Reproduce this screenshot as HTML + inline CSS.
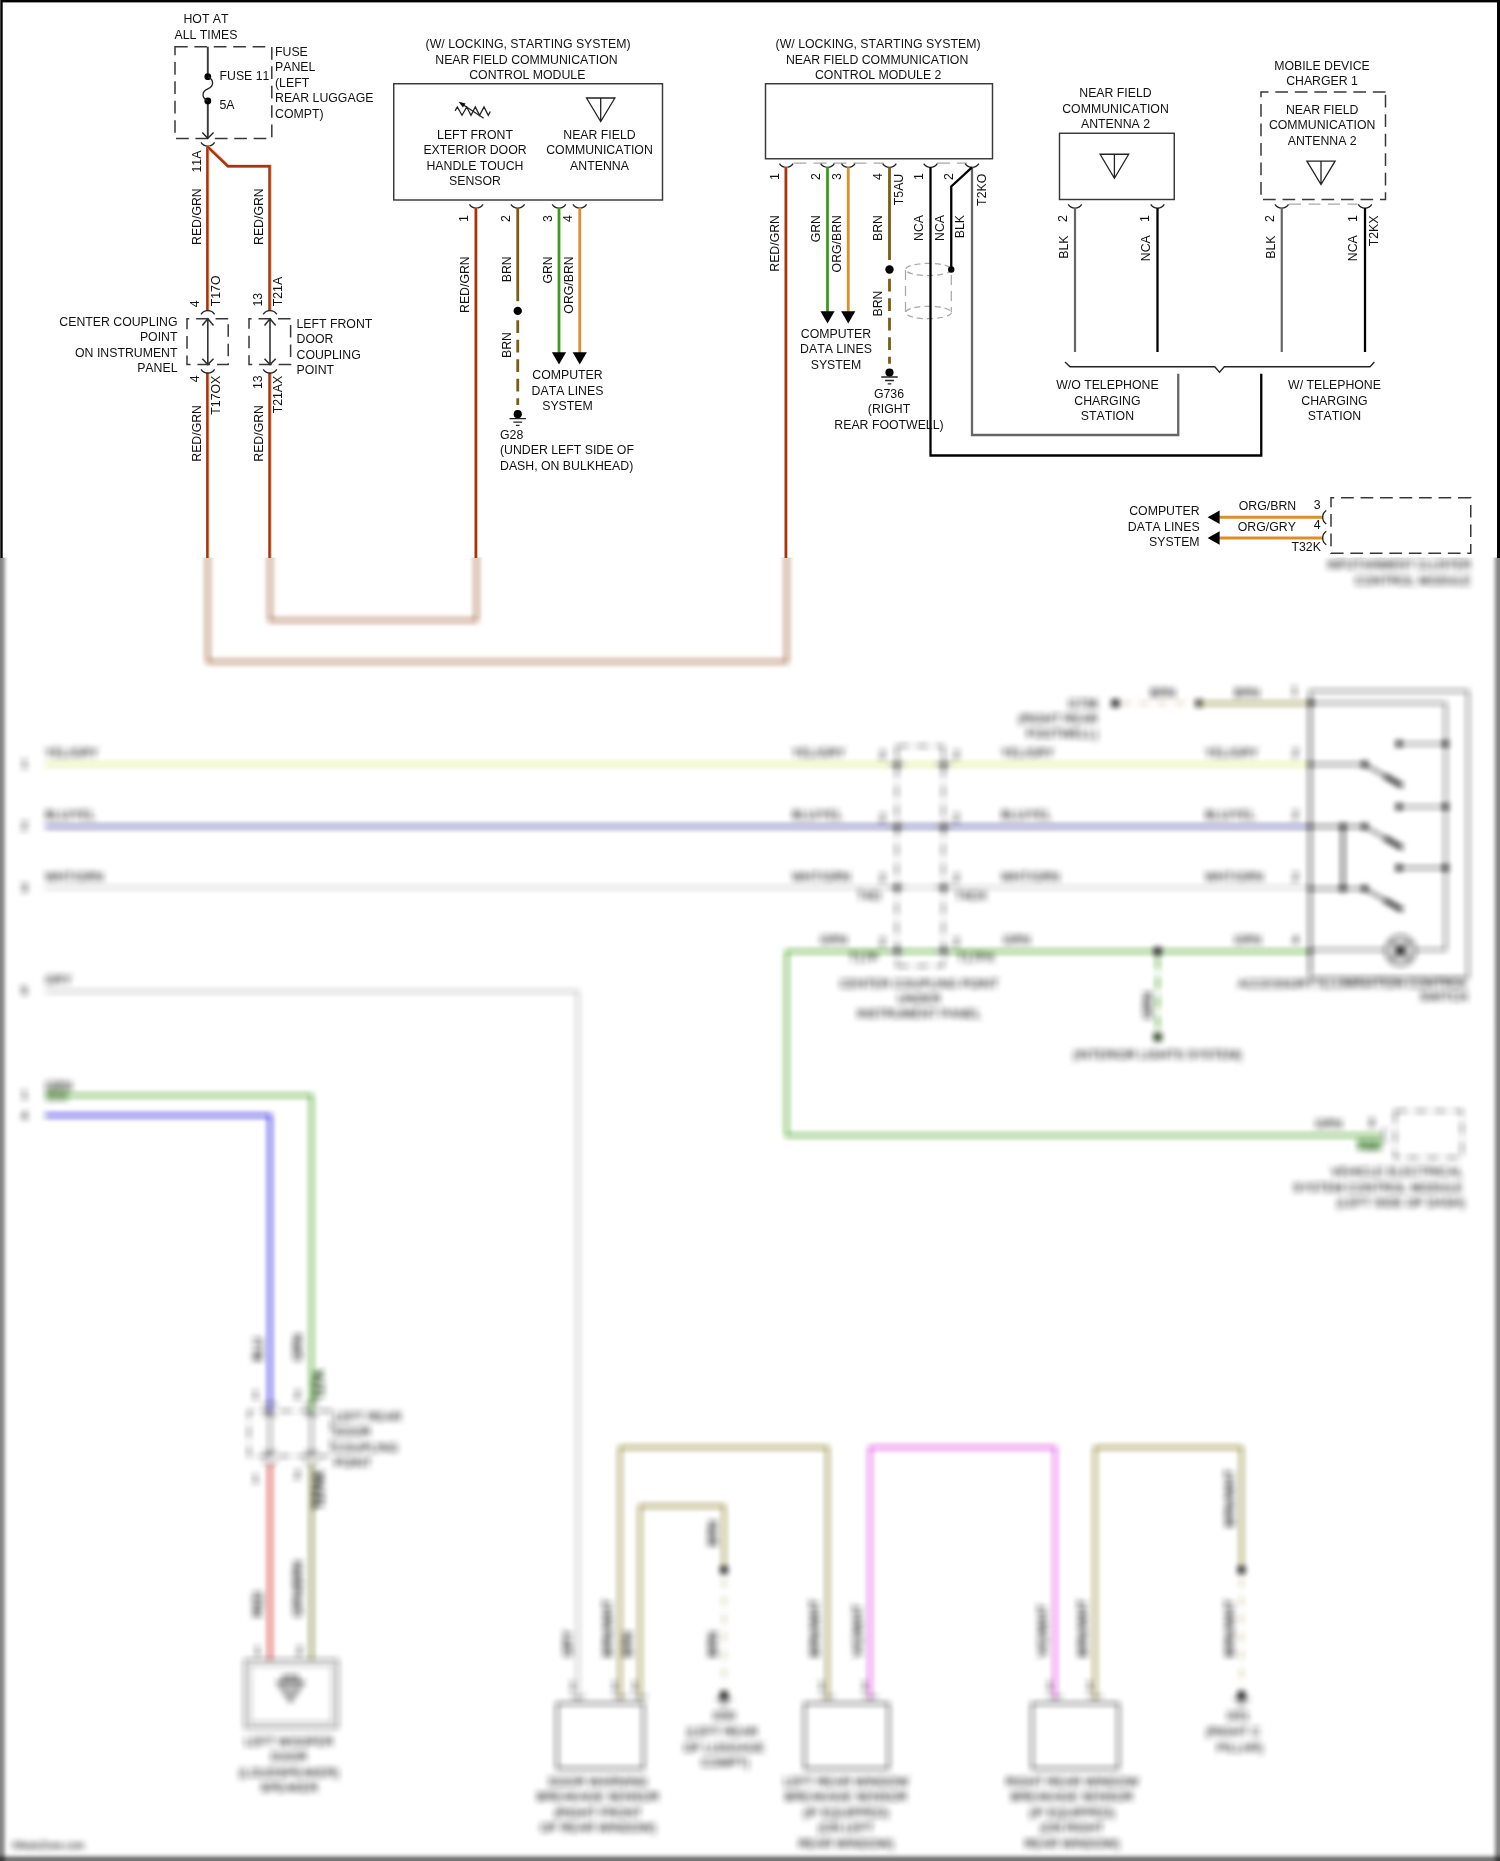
<!DOCTYPE html>
<html lang="en">
<head>
<meta charset="utf-8">
<title>Near Field Communication Wiring Diagram</title>
<style>
html,body{margin:0;padding:0;background:#fff}
svg{display:block}
text{font-family:"Liberation Sans",Arial,Helvetica,sans-serif;font-size:12.3px;fill:#111;font-kerning:none}
.k{fill:none;stroke:#222;stroke-width:1.3}
.b{fill:none;stroke:#383838;stroke-width:1.45}
.d{fill:none;stroke:#383838;stroke-width:1.5}
.g{fill:none;stroke:#a8a8a8;stroke-width:1.25}
.z text{stroke:#111;stroke-width:.12px}
</style>
</head>
<body>
<svg width="1500" height="1861" viewBox="0 0 1500 1861">
<defs>
<clipPath id="cs"><rect x="0" y="0" width="1500" height="557.6"/></clipPath>
<clipPath id="cb"><rect x="0" y="557.6" width="1500" height="1303.4"/></clipPath>
<linearGradient id="gl" x1="0" y1="0" x2="1" y2="0">
<stop offset="0" stop-color="#000" stop-opacity=".5"/><stop offset=".3" stop-color="#000" stop-opacity=".42"/><stop offset=".5" stop-color="#000" stop-opacity=".27"/><stop offset=".68" stop-color="#000" stop-opacity=".11"/><stop offset=".85" stop-color="#000" stop-opacity=".03"/><stop offset="1" stop-color="#000" stop-opacity="0"/>
</linearGradient>
<linearGradient id="gr" x1="1" y1="0" x2="0" y2="0">
<stop offset="0" stop-color="#000" stop-opacity=".5"/><stop offset=".3" stop-color="#000" stop-opacity=".45"/><stop offset=".55" stop-color="#000" stop-opacity=".25"/><stop offset=".75" stop-color="#000" stop-opacity=".09"/><stop offset=".9" stop-color="#000" stop-opacity=".02"/><stop offset="1" stop-color="#000" stop-opacity="0"/>
</linearGradient>
<linearGradient id="gb" x1="0" y1="1" x2="0" y2="0">
<stop offset="0" stop-color="#000" stop-opacity=".56"/><stop offset=".3" stop-color="#000" stop-opacity=".5"/><stop offset=".5" stop-color="#000" stop-opacity=".3"/><stop offset=".68" stop-color="#000" stop-opacity=".13"/><stop offset=".88" stop-color="#000" stop-opacity=".03"/><stop offset="1" stop-color="#000" stop-opacity="0"/>
</linearGradient>
<filter id="bl" filterUnits="userSpaceOnUse" x="0" y="520" width="1500" height="1341" color-interpolation-filters="sRGB">
<feConvolveMatrix order="9 1" kernelMatrix="1 1 1 1 1 1 1 1 1" divisor="9" targetX="4" targetY="0" edgeMode="none" preserveAlpha="false" result="a"/>
<feConvolveMatrix in="a" order="1 9" kernelMatrix="1 1 1 1 1 1 1 1 1" divisor="9" targetX="0" targetY="4" edgeMode="none" preserveAlpha="false" result="b"/>
<feGaussianBlur in="b" stdDeviation="1.8"/>
</filter>
</defs>
<rect x="0" y="0" width="1500" height="1861" fill="#fff"/>
<g clip-path="url(#cb)"><g filter="url(#bl)" opacity="1" class="z">
<path d="M207.8,530 V661.8 H786.8 V530" fill="none" stroke="#a86c48" stroke-width="3.0" stroke-linejoin="miter"/>
<path d="M270,530 V620.3 H476.4 V530" fill="none" stroke="#a86c48" stroke-width="3.0" stroke-linejoin="miter"/>
<path d="M1470.75,540 V553.2 H1331 V540" class="d" stroke-dasharray="12.7 6.8"/>
<text x="1291.50" y="550.50">T32K</text>
<text x="1200.00" y="546.25" text-anchor="end">SYSTEM</text>
<text x="1471.00" y="568.50" text-anchor="end" textLength="144" lengthAdjust="spacingAndGlyphs">INFOTAINMENT CLUSTER</text>
<text x="1471.00" y="584.50" text-anchor="end">CONTROL MODULE</text>
<path d="M45,764.4 H1310" fill="none" stroke="#dcec7c" stroke-width="2.8"/>
<path d="M45,826.5 H1310" fill="none" stroke="#5a56a8" stroke-width="2.8"/>
<path d="M45,887.4 H1310" fill="none" stroke="#d0d0d0" stroke-width="2.8"/>
<path d="M45,991.3 H577.8 V1700" fill="none" stroke="#c4c4c4" stroke-width="2.8" stroke-linejoin="miter"/>
<path d="M45,1095.3 H311.5 V1411" fill="none" stroke="#4ea42c" stroke-width="2.8" stroke-linejoin="miter"/>
<path d="M45,1115.3 H270 V1411" fill="none" stroke="#1808dc" stroke-width="2.8" stroke-linejoin="miter"/>
<path d="M1310,951.3 H786.7 V1135.3 H1380" fill="none" stroke="#4ea42c" stroke-width="2.8" stroke-linejoin="miter"/>
<text x="45.00" y="757.30">YEL/GRY</text>
<text x="21.00" y="768.30">1</text>
<text x="45.00" y="819.30">BLU/YEL</text>
<text x="21.00" y="830.30">2</text>
<text x="45.00" y="880.70">WHT/GRN</text>
<text x="21.00" y="891.70">3</text>
<text x="45.00" y="984.30">GRY</text>
<text x="21.00" y="995.30">5</text>
<text x="45.00" y="1089.50">GRN</text>
<text x="21.00" y="1099.00">1</text>
<text x="21.00" y="1119.50">4</text>
<rect x="46" y="1088" width="22" height="13" fill="#5f8750" opacity=".6"/>
<text x="792.00" y="757.30">YEL/GRY</text>
<text x="1001.00" y="757.30">YEL/GRY</text>
<text x="1205.00" y="757.30">YEL/GRY</text>
<text x="1292.00" y="757.30">2</text>
<text x="792.00" y="819.30">BLU/YEL</text>
<text x="1001.00" y="819.30">BLU/YEL</text>
<text x="1205.00" y="819.30">BLU/YEL</text>
<text x="1292.00" y="819.30">2</text>
<text x="792.00" y="880.70">WHT/GRN</text>
<text x="1001.00" y="880.70">WHT/GRN</text>
<text x="1205.00" y="880.70">WHT/GRN</text>
<text x="1292.00" y="880.70">2</text>
<text x="820.00" y="944.00">GRN</text>
<text x="1003.00" y="944.00">GRN</text>
<text x="1234.00" y="944.00">GRN</text>
<text x="1292.00" y="944.00">4</text>
<path d="M896.7,746 V966 M943.3,746 V966" class="d" stroke-dasharray="12.6 6.9"/>
<path d="M896.7,746 H943.3 M896.7,966 H943.3" class="d" stroke-dasharray="12.6 6.9"/>
<path d="M888.7,764.4 H904.7 M894.7,764.4 l5,-5 M894.7,764.4 l5,5" class="k" stroke-width="1.6"/>
<circle cx="896.70" cy="764.40" r="2.20" fill="#000"/>
<path d="M935.3,764.4 H951.3 M941.3,764.4 l5,-5 M941.3,764.4 l5,5" class="k" stroke-width="1.6"/>
<circle cx="943.30" cy="764.40" r="2.20" fill="#000"/>
<text x="879.00" y="759.40">2</text>
<text x="953.00" y="759.40">2</text>
<path d="M888.7,826.5 H904.7 M894.7,826.5 l5,-5 M894.7,826.5 l5,5" class="k" stroke-width="1.6"/>
<circle cx="896.70" cy="826.50" r="2.20" fill="#000"/>
<path d="M935.3,826.5 H951.3 M941.3,826.5 l5,-5 M941.3,826.5 l5,5" class="k" stroke-width="1.6"/>
<circle cx="943.30" cy="826.50" r="2.20" fill="#000"/>
<text x="879.00" y="821.50">2</text>
<text x="953.00" y="821.50">2</text>
<path d="M888.7,887.4 H904.7 M894.7,887.4 l5,-5 M894.7,887.4 l5,5" class="k" stroke-width="1.6"/>
<circle cx="896.70" cy="887.40" r="2.20" fill="#000"/>
<path d="M935.3,887.4 H951.3 M941.3,887.4 l5,-5 M941.3,887.4 l5,5" class="k" stroke-width="1.6"/>
<circle cx="943.30" cy="887.40" r="2.20" fill="#000"/>
<text x="879.00" y="882.40">2</text>
<text x="953.00" y="882.40">2</text>
<path d="M888.7,951.3 H904.7 M894.7,951.3 l5,-5 M894.7,951.3 l5,5" class="k" stroke-width="1.6"/>
<circle cx="896.70" cy="951.30" r="2.20" fill="#000"/>
<path d="M935.3,951.3 H951.3 M941.3,951.3 l5,-5 M941.3,951.3 l5,5" class="k" stroke-width="1.6"/>
<circle cx="943.30" cy="951.30" r="2.20" fill="#000"/>
<text x="879.00" y="946.30">2</text>
<text x="953.00" y="946.30">2</text>
<text x="857.00" y="900.00">T4O</text>
<text x="955.00" y="900.00">T4OX</text>
<text x="849.00" y="962.00">T17P</text>
<text x="957.00" y="962.00">T17PX</text>
<text x="919.00" y="987.50" text-anchor="middle">CENTER COUPLING POINT</text>
<text x="919.00" y="1002.50" text-anchor="middle">UNDER</text>
<text x="919.00" y="1017.50" text-anchor="middle">INSTRUMENT PANEL</text>
<circle cx="1115.40" cy="703.30" r="4.00" fill="#000"/>
<circle cx="1199.20" cy="703.30" r="3.80" fill="#000"/>
<path d="M1121,703.3 H1194" fill="none" stroke="#988c40" stroke-width="1.6" stroke-dasharray="10 8" opacity=".7"/>
<path d="M1199,703.3 H1310" fill="none" stroke="#988c40" stroke-width="2.8"/>
<text x="1098.00" y="707.50" text-anchor="end">G736</text>
<text x="1098.00" y="723.00" text-anchor="end">(RIGHT REAR</text>
<text x="1098.00" y="737.50" text-anchor="end">FOOTWELL)</text>
<text x="1150.00" y="696.50">BRN</text>
<text x="1234.00" y="696.50">BRN</text>
<text x="1291.00" y="695.00">1</text>
<rect x="1310" y="691" width="158" height="287" fill="none" stroke="#333" stroke-width="1.5"/>
<path d="M1310,703 H1445.6 V949.7 H1310" fill="none" stroke="#333" stroke-width="1.6"/>
<path d="M1310.2,700 V972" fill="none" stroke="#333" stroke-width="2.1"/>
<circle cx="1311.00" cy="702.50" r="3.10" fill="#000"/>
<path d="M1399,743.7 H1445.6" stroke="#333" stroke-width="1.6" fill="none"/>
<circle cx="1399.00" cy="743.70" r="3.30" fill="#000"/>
<circle cx="1445.60" cy="743.70" r="3.30" fill="#000"/>
<path d="M1399,806.7 H1445.6" stroke="#333" stroke-width="1.6" fill="none"/>
<circle cx="1399.00" cy="806.70" r="3.30" fill="#000"/>
<circle cx="1445.60" cy="806.70" r="3.30" fill="#000"/>
<path d="M1399,867.9 H1445.6" stroke="#333" stroke-width="1.6" fill="none"/>
<circle cx="1399.00" cy="867.90" r="3.30" fill="#000"/>
<circle cx="1445.60" cy="867.90" r="3.30" fill="#000"/>
<path d="M1310,764.4 H1364.7" stroke="#333" stroke-width="1.9" fill="none"/>
<circle cx="1364.70" cy="764.40" r="3.30" fill="#000"/>
<path d="M1364.7,764.4 L1402.4,785.9" stroke="#222" stroke-width="1.8" fill="none"/>
<path d="M1384.5,775.7 L1402.4,785.9" stroke="#111" stroke-width="4.6" fill="none"/>
<circle cx="1310.20" cy="764.40" r="2.30" fill="#000"/>
<path d="M1310,826.5 H1364.7" stroke="#333" stroke-width="1.9" fill="none"/>
<circle cx="1364.70" cy="826.50" r="3.30" fill="#000"/>
<path d="M1364.7,826.5 L1402.4,848.0" stroke="#222" stroke-width="1.8" fill="none"/>
<path d="M1384.5,837.8 L1402.4,848.0" stroke="#111" stroke-width="4.6" fill="none"/>
<circle cx="1310.20" cy="826.50" r="2.30" fill="#000"/>
<path d="M1310,888.6 H1364.7" stroke="#333" stroke-width="1.9" fill="none"/>
<circle cx="1364.70" cy="888.60" r="3.30" fill="#000"/>
<path d="M1364.7,888.6 L1402.4,910.1" stroke="#222" stroke-width="1.8" fill="none"/>
<path d="M1384.5,899.9 L1402.4,910.1" stroke="#111" stroke-width="4.6" fill="none"/>
<circle cx="1310.20" cy="888.60" r="2.30" fill="#000"/>
<circle cx="1343.00" cy="826.50" r="3.30" fill="#000"/>
<circle cx="1343.00" cy="888.60" r="3.30" fill="#000"/>
<path d="M1343,826.5 V888.6" stroke="#222" stroke-width="2.6" fill="none"/>
<circle cx="1310.20" cy="951.30" r="2.30" fill="#000"/>
<circle cx="1400.5" cy="950.6" r="15" fill="#d4d4d4" stroke="#444" stroke-width="1.5"/>
<path d="M1391,941 L1410,960 M1410,941 L1391,960" stroke="#333" stroke-width="1.5"/>
<circle cx="1400.50" cy="950.60" r="4.20" fill="#000"/>
<text x="1468.00" y="987.50" text-anchor="end">ACCESSORY ILLUMINATION CONTROL</text>
<text x="1468.00" y="1001.00" text-anchor="end">SWITCH</text>
<circle cx="1157.70" cy="951.30" r="4.20" fill="#000"/>
<path d="M1157.7,957 V1031" fill="none" stroke="#4ea42c" stroke-width="2.6" stroke-dasharray="12.7 6.8"/>
<circle cx="1157.7" cy="1037" r="4.6" fill="#16330e"/>
<text transform="translate(1151.50 1019.00) rotate(-90)" style="stroke-width:.3px">GRN</text>
<text x="1157.50" y="1059.00" text-anchor="middle">(INTERIOR LIGHTS SYSTEM)</text>
<rect x="1395" y="1111" width="67" height="46.5" class="d" stroke-dasharray="12.7 6.8"/>
<text x="1315.00" y="1128.00">GRN</text>
<text x="1368.00" y="1127.00">3</text>
<path d="M1386,1128.5 A8 8 0 0 0 1386,1142" class="k"/>
<text x="1357.00" y="1150.50" fill="#1f4a16">T4A</text>
<rect x="1357" y="1139" width="25" height="11" fill="#3f8f2c" opacity=".55"/>
<text x="1463.00" y="1175.50" text-anchor="end">VEHICLE ELECTRICAL</text>
<text x="1463.00" y="1191.50" text-anchor="end">SYSTEM CONTROL MODULE</text>
<text x="1465.00" y="1206.50" text-anchor="end">(LEFT SIDE OF DASH)</text>
<path d="M331.5,1411 H249 V1456 H331.5 Z" class="d" stroke-dasharray="12.6 6.9"/>
<path d="M270.0,1411 V1456 M264.5,1417 l5.5,-6 l5.5,6 M264.5,1450 l5.5,6 l5.5,-6" class="k" stroke-width="1.5"/>
<path d="M263.20,1406.50 A8 8 0 0 1 276.80,1406.50" class="k"/>
<path d="M263.20,1460.50 A8 8 0 0 0 276.80,1460.50" class="k"/>
<path d="M311.5,1411 V1456 M306.0,1417 l5.5,-6 l5.5,6 M306.0,1450 l5.5,6 l5.5,-6" class="k" stroke-width="1.5"/>
<path d="M304.70,1406.50 A8 8 0 0 1 318.30,1406.50" class="k"/>
<path d="M304.70,1460.50 A8 8 0 0 0 318.30,1460.50" class="k"/>
<path d="M270,1464 V1660" fill="none" stroke="#d01808" stroke-width="2.8"/>
<path d="M311.5,1464 V1660" fill="none" stroke="#78782e" stroke-width="2.8"/>
<text transform="translate(261.50 1361.00) rotate(-90)" style="stroke-width:.3px">BLU</text>
<text transform="translate(302.00 1361.00) rotate(-90)" style="stroke-width:.3px">GRN</text>
<text transform="translate(261.50 1617.00) rotate(-90)" style="stroke-width:.3px">RED</text>
<text transform="translate(302.00 1617.00) rotate(-90)" style="stroke-width:.3px">GRN/BRN</text>
<text transform="translate(322.50 1400.00) rotate(-90)" style="fill:#14350d;stroke:#14350d;stroke-width:1px">T27A</text>
<text transform="translate(322.50 1509.00) rotate(-90)" style="stroke-width:1.1px">T27AX</text>
<text x="252.00" y="1399.00">1</text>
<text x="294.00" y="1399.00">2</text>
<text x="252.00" y="1483.00">1</text>
<text x="294.00" y="1479.00">2</text>
<text x="254.00" y="1655.00">1</text>
<text x="296.00" y="1655.00">2</text>
<text x="334.00" y="1421.00">LEFT REAR</text>
<text x="334.00" y="1436.30">DOOR</text>
<text x="334.00" y="1451.60">COUPLING</text>
<text x="334.00" y="1466.90">POINT</text>
<rect x="245" y="1660" width="92.5" height="67.5" fill="none" stroke="#333" stroke-width="1.3"/>
<rect x="250" y="1665" width="82.5" height="57.5" fill="none" stroke="#666" stroke-width="1"/>
<path d="M277,1682 H304 L290.5,1702 Z M283,1682 V1676 H298 V1682" fill="#bbb" stroke="#333" stroke-width="1.3"/>
<text x="289.00" y="1746.00" text-anchor="middle">LEFT WOOFER</text>
<text x="289.00" y="1761.30" text-anchor="middle">DOOR</text>
<text x="289.00" y="1776.60" text-anchor="middle">(LOUDSPEAKER)</text>
<text x="289.00" y="1791.90" text-anchor="middle">SPEAKER</text>
<rect x="557.0" y="1703.5" width="86.5" height="65" fill="none" stroke="#333" stroke-width="1.8"/>
<rect x="804.5" y="1703.5" width="84.0" height="65" fill="none" stroke="#333" stroke-width="1.8"/>
<rect x="1032.0" y="1703.5" width="86.5" height="65" fill="none" stroke="#333" stroke-width="1.8"/>
<path d="M620,1698 V1447.5 H827.5 V1698" fill="none" stroke="#988c40" stroke-width="2.8" stroke-linejoin="miter"/>
<path d="M640,1698 V1506 H724 V1566" fill="none" stroke="#988c40" stroke-width="2.8" stroke-linejoin="miter"/>
<path d="M870,1698 V1447.5 H1055 V1698" fill="none" stroke="#e04ee0" stroke-width="2.8" stroke-linejoin="miter"/>
<path d="M1095,1698 V1447.5 H1241.5 V1566" fill="none" stroke="#988c40" stroke-width="2.8" stroke-linejoin="miter"/>
<path d="M571.00,1694.50 A8 8 0 0 0 584.60,1694.50" class="k"/>
<path d="M613.20,1694.50 A8 8 0 0 0 626.80,1694.50" class="k"/>
<path d="M633.20,1694.50 A8 8 0 0 0 646.80,1694.50" class="k"/>
<path d="M820.70,1694.50 A8 8 0 0 0 834.30,1694.50" class="k"/>
<path d="M863.20,1694.50 A8 8 0 0 0 876.80,1694.50" class="k"/>
<path d="M1048.20,1694.50 A8 8 0 0 0 1061.80,1694.50" class="k"/>
<path d="M1088.20,1694.50 A8 8 0 0 0 1101.80,1694.50" class="k"/>
<circle cx="724.00" cy="1570.00" r="3.90" fill="#000"/>
<path d="M724.0,1578 V1688" fill="none" stroke="#988c40" stroke-width="1.8" stroke-dasharray="10 8" opacity=".6"/>
<circle cx="724.00" cy="1695.00" r="4.10" fill="#000"/>
<path d="M715.80,1699.40 H732.20 M719.60,1702.90 H728.40 M722.20,1706.20 H725.80" class="k"/>
<circle cx="1241.50" cy="1570.00" r="3.90" fill="#000"/>
<path d="M1241.5,1578 V1688" fill="none" stroke="#988c40" stroke-width="1.8" stroke-dasharray="10 8" opacity=".6"/>
<circle cx="1241.50" cy="1695.00" r="4.10" fill="#000"/>
<path d="M1233.30,1699.40 H1249.70 M1237.10,1702.90 H1245.90 M1239.70,1706.20 H1243.30" class="k"/>
<text transform="translate(572.00 1657.00) rotate(-90)" style="stroke-width:.3px">GRY</text>
<text transform="translate(612.00 1657.00) rotate(-90)" style="stroke-width:.3px">BRN/WHT</text>
<text transform="translate(632.00 1657.00) rotate(-90)" style="stroke-width:.3px">BRN</text>
<text transform="translate(717.00 1546.00) rotate(-90)" style="stroke-width:.3px">BRN</text>
<text transform="translate(717.00 1657.00) rotate(-90)" style="stroke-width:.3px">BRN</text>
<text transform="translate(819.00 1657.00) rotate(-90)" style="stroke-width:.3px">BRN/WHT</text>
<text transform="translate(861.50 1657.00) rotate(-90)" style="stroke-width:.3px">VIO/WHT</text>
<text transform="translate(1046.50 1657.00) rotate(-90)" style="stroke-width:.3px">VIO/WHT</text>
<text transform="translate(1087.00 1657.00) rotate(-90)" style="stroke-width:.3px">BRN/WHT</text>
<text transform="translate(1234.00 1527.00) rotate(-90)" style="stroke-width:.3px">BRN/WHT</text>
<text transform="translate(1234.00 1657.00) rotate(-90)" style="stroke-width:.3px">BRN/WHT</text>
<text x="569.00" y="1690.00">1</text>
<text x="611.00" y="1690.00">1</text>
<text x="631.00" y="1690.00">1</text>
<text x="818.00" y="1690.00">1</text>
<text x="861.00" y="1690.00">1</text>
<text x="1046.00" y="1690.00">1</text>
<text x="1086.00" y="1690.00">1</text>
<text x="598.00" y="1786.00" text-anchor="middle">DOOR WARNING</text>
<text x="598.00" y="1801.40" text-anchor="middle">BREAKAGE SENSOR</text>
<text x="598.00" y="1816.80" text-anchor="middle">(RIGHT FRONT</text>
<text x="598.00" y="1832.20" text-anchor="middle">OF REAR WINDOW)</text>
<text x="846.00" y="1786.00" text-anchor="middle">LEFT REAR WINDOW</text>
<text x="846.00" y="1801.40" text-anchor="middle">BREAKAGE SENSOR</text>
<text x="846.00" y="1816.80" text-anchor="middle">(IF EQUIPPED)</text>
<text x="846.00" y="1832.20" text-anchor="middle">(ON LEFT</text>
<text x="846.00" y="1847.60" text-anchor="middle">REAR WINDOW)</text>
<text x="1072.00" y="1786.00" text-anchor="middle">RIGHT REAR WINDOW</text>
<text x="1072.00" y="1801.40" text-anchor="middle">BREAKAGE SENSOR</text>
<text x="1072.00" y="1816.80" text-anchor="middle">(IF EQUIPPED)</text>
<text x="1072.00" y="1832.20" text-anchor="middle">(ON RIGHT</text>
<text x="1072.00" y="1847.60" text-anchor="middle">REAR WINDOW)</text>
<text x="724.00" y="1719.50" text-anchor="middle">G50</text>
<text x="722.00" y="1736.00" text-anchor="middle">(LEFT REAR</text>
<text x="724.00" y="1752.00" text-anchor="middle">OF LUGGAGE</text>
<text x="725.00" y="1766.50" text-anchor="middle">COMPT)</text>
<text x="1238.00" y="1719.50" text-anchor="middle">G51</text>
<text x="1233.00" y="1735.50" text-anchor="middle">(RIGHT C</text>
<text x="1240.00" y="1751.50" text-anchor="middle">PILLAR)</text>
<text x="12.00" y="1849.00" style="font-size:10px">©AutoZone.com</text>
</g></g>
<rect x="0" y="557.6" width="9" height="1303.4" fill="url(#gl)"/>
<rect x="1491" y="557.6" width="9" height="1303.4" fill="url(#gr)"/>
<rect x="0" y="1852" width="1500" height="9" fill="url(#gb)"/>
<g clip-path="url(#cs)" opacity="0.999">
<text x="206.00" y="23.00" text-anchor="middle">HOT AT</text>
<text x="206.00" y="38.50" text-anchor="middle">ALL TIMES</text>
<rect x="175" y="46.75" width="96.8" height="91.75" class="d" stroke-dasharray="12.7 6.7"/>
<path d="M207.8,46.75 V76.7 M207.8,100.9 V138.3" class="k" style="stroke-width:1.9;stroke:#3a3a3a"/>
<circle cx="207.80" cy="76.70" r="3.40" fill="#000"/>
<circle cx="207.80" cy="100.90" r="3.40" fill="#000"/>
<path d="M207.8,76.7 C214.2,80 214.2,86 207.8,88.8 C201.4,91.6 201.4,97.6 207.8,100.9" class="k" stroke-width="1.4"/>
<path d="M202.3,132.5 L207.8,138.3 L213.6,132.5" class="k"/>
<path d="M201.00,142.30 A8 8 0 0 0 214.60,142.30" class="k"/>
<text x="219.50" y="79.50">FUSE 11</text>
<text x="219.50" y="108.50">5A</text>
<text x="275.00" y="55.50">FUSE</text>
<text x="275.00" y="71.00">PANEL</text>
<text x="275.00" y="86.50">(LEFT</text>
<text x="275.00" y="102.00">REAR LUGGAGE</text>
<text x="275.00" y="117.50">COMPT)</text>
<path d="M207.8,146.2 V311" fill="none" stroke="#e8b078" stroke-width="3.5" stroke-linejoin="miter" opacity=".8"/>
<path d="M207.8,146.2 V311" fill="none" stroke="#a73317" stroke-width="2.4" stroke-linejoin="miter" transform="translate(-0.45 0)"/>
<path d="M207.8,146.6 L228.3,166.2 H270 V311" fill="none" stroke="#e8b078" stroke-width="3.5" stroke-linejoin="miter" opacity=".8"/>
<path d="M207.8,146.6 L228.3,166.2 H270 V311" fill="none" stroke="#a73317" stroke-width="2.4" stroke-linejoin="miter" transform="translate(-0.45 0)"/>
<path d="M207.8,372.6 V600" fill="none" stroke="#e8b078" stroke-width="3.5" stroke-linejoin="miter" opacity=".8"/>
<path d="M207.8,372.6 V600" fill="none" stroke="#a73317" stroke-width="2.4" stroke-linejoin="miter" transform="translate(-0.45 0)"/>
<path d="M270,372.6 V600" fill="none" stroke="#e8b078" stroke-width="3.5" stroke-linejoin="miter" opacity=".8"/>
<path d="M270,372.6 V600" fill="none" stroke="#a73317" stroke-width="2.4" stroke-linejoin="miter" transform="translate(-0.45 0)"/>
<text transform="translate(200.75 172.50) rotate(-90)">11A</text>
<text transform="translate(200.75 245.00) rotate(-90)">RED/GRN</text>
<text transform="translate(263.00 245.00) rotate(-90)">RED/GRN</text>
<text transform="translate(199.25 307.20) rotate(-90)">4</text>
<text transform="translate(220.00 306.25) rotate(-90)">T17O</text>
<text transform="translate(261.50 306.60) rotate(-90)">13</text>
<text transform="translate(282.00 306.25) rotate(-90)">T21A</text>
<text transform="translate(199.25 375.30) rotate(-90)" text-anchor="end">4</text>
<text transform="translate(220.00 375.75) rotate(-90)" text-anchor="end">T17OX</text>
<text transform="translate(261.50 375.30) rotate(-90)" text-anchor="end">13</text>
<text transform="translate(282.00 375.75) rotate(-90)" text-anchor="end">T21AX</text>
<text transform="translate(200.75 461.75) rotate(-90)">RED/GRN</text>
<text transform="translate(263.00 461.75) rotate(-90)">RED/GRN</text>
<path d="M201.00,314.40 A8 8 0 0 1 214.60,314.40" class="k"/>
<path d="M228.20,318.8 H187.00 V364.6 H228.20 Z" class="d" stroke-dasharray="12.6 6.9"/>
<path d="M207.80,318.8 V364.6 M202.30,325.4 L207.80,318.8 L213.50,325.4 M202.30,358.8 L207.80,364.6 L213.50,358.8" class="k" style="stroke-width:1.6;stroke:#333"/>
<path d="M201.00,369.40 A8 8 0 0 0 214.60,369.40" class="k"/>
<path d="M263.20,314.40 A8 8 0 0 1 276.80,314.40" class="k"/>
<path d="M290.60,318.8 H249.00 V364.6 H290.60 Z" class="d" stroke-dasharray="12.6 6.9"/>
<path d="M270.00,318.8 V364.6 M264.50,325.4 L270.00,318.8 L275.70,325.4 M264.50,358.8 L270.00,364.6 L275.70,358.8" class="k" style="stroke-width:1.6;stroke:#333"/>
<path d="M263.20,369.40 A8 8 0 0 0 276.80,369.40" class="k"/>
<text x="177.50" y="325.75" text-anchor="end">CENTER COUPLING</text>
<text x="177.50" y="341.25" text-anchor="end">POINT</text>
<text x="177.50" y="356.75" text-anchor="end">ON INSTRUMENT</text>
<text x="177.50" y="372.25" text-anchor="end">PANEL</text>
<text x="296.50" y="327.75">LEFT FRONT</text>
<text x="296.50" y="343.25">DOOR</text>
<text x="296.50" y="358.75">COUPLING</text>
<text x="296.50" y="374.25">POINT</text>
<text x="528.10" y="48.00" text-anchor="middle">(W/ LOCKING, STARTING SYSTEM)</text>
<text x="526.50" y="63.50" text-anchor="middle">NEAR FIELD COMMUNICATION</text>
<text x="527.30" y="79.00" text-anchor="middle">CONTROL MODULE</text>
<rect x="393.75" y="83.75" width="268.75" height="116.25" class="b"/>
<path d="M455.1,110.9 L457.3,107 L462,115.3 L466.7,107 L471,115.3 L475.3,107 L479.6,115.3 L484,107 L488.3,115.3 L490.3,111.5" class="k" stroke-width="1.2" stroke-linejoin="miter"/>
<path d="M483.7,118.3 L460.5,103" class="k" stroke-width="1.2"/>
<path d="M458.6,101.7 L465.6,103.6 L463,107.4 Z" fill="#111"/>
<path d="M586.50,98.00 H614.90 L600.70,121.60 Z M600.70,98.00 V121.60" class="k" stroke-linejoin="miter"/>
<text x="475.00" y="138.50" text-anchor="middle">LEFT FRONT</text>
<text x="475.00" y="154.00" text-anchor="middle">EXTERIOR DOOR</text>
<text x="475.00" y="169.50" text-anchor="middle">HANDLE TOUCH</text>
<text x="475.00" y="185.00" text-anchor="middle">SENSOR</text>
<text x="599.50" y="138.50" text-anchor="middle">NEAR FIELD</text>
<text x="599.50" y="154.00" text-anchor="middle">COMMUNICATION</text>
<text x="599.50" y="169.50" text-anchor="middle">ANTENNA</text>
<path d="M469.45,204.30 A8 8 0 0 0 483.05,204.30" class="k"/>
<path d="M510.95,204.30 A8 8 0 0 0 524.55,204.30" class="k"/>
<path d="M552.20,204.30 A8 8 0 0 0 565.80,204.30" class="k"/>
<path d="M572.95,204.30 A8 8 0 0 0 586.55,204.30" class="k"/>
<path d="M476.25,208 V600" fill="none" stroke="#e8b078" stroke-width="3.5" stroke-linejoin="miter" opacity=".8"/>
<path d="M476.25,208 V600" fill="none" stroke="#a73317" stroke-width="2.4" stroke-linejoin="miter" transform="translate(-0.45 0)"/>
<path d="M517.75,208 V301.2" fill="none" stroke="#7d5c12" stroke-width="2.8"/>
<path d="M517.75,320.3 V405" fill="none" stroke="#7d5c12" stroke-width="2.8" stroke-dasharray="12.7 6.8"/>
<path d="M559,208 V354" fill="none" stroke="#3c9b1e" stroke-width="2.8"/>
<path d="M579.75,208 V354" fill="none" stroke="#dd8d2e" stroke-width="2.8"/>
<text transform="translate(468.25 222.00) rotate(-90)">1</text>
<text transform="translate(510.00 222.00) rotate(-90)">2</text>
<text transform="translate(551.50 222.00) rotate(-90)">3</text>
<text transform="translate(571.75 222.00) rotate(-90)">4</text>
<text transform="translate(469.25 256.25) rotate(-90)" text-anchor="end">RED/GRN</text>
<text transform="translate(511.25 256.25) rotate(-90)" text-anchor="end">BRN</text>
<text transform="translate(552.00 256.25) rotate(-90)" text-anchor="end">GRN</text>
<text transform="translate(572.50 256.25) rotate(-90)" text-anchor="end">ORG/BRN</text>
<text transform="translate(511.25 332.00) rotate(-90)" text-anchor="end">BRN</text>
<circle cx="517.75" cy="310.90" r="4.20" fill="#000"/>
<circle cx="517.75" cy="414.20" r="4.10" fill="#000"/>
<path d="M509.55,418.60 H525.95 M513.35,422.10 H522.15 M515.95,425.40 H519.55" class="k"/>
<path d="M551.90,352.20 H566.10 L559.00,364.40 Z" fill="#000"/>
<path d="M572.65,352.20 H586.85 L579.75,364.40 Z" fill="#000"/>
<text x="567.50" y="379.25" text-anchor="middle">COMPUTER</text>
<text x="567.50" y="394.75" text-anchor="middle">DATA LINES</text>
<text x="567.50" y="410.25" text-anchor="middle">SYSTEM</text>
<text x="500.00" y="438.75">G28</text>
<text x="500.00" y="454.25">(UNDER LEFT SIDE OF</text>
<text x="500.00" y="469.75">DASH, ON BULKHEAD)</text>
<text x="878.10" y="48.00" text-anchor="middle">(W/ LOCKING, STARTING SYSTEM)</text>
<text x="877.10" y="63.50" text-anchor="middle">NEAR FIELD COMMUNICATION</text>
<text x="878.20" y="79.00" text-anchor="middle">CONTROL MODULE 2</text>
<rect x="765.5" y="83.75" width="227" height="75" class="b"/>
<path d="M793.5,163 H883.5 M937,163 H967" class="g" stroke-dasharray="13 7"/>
<path d="M779.45,163.60 A8 8 0 0 0 793.05,163.60" class="k"/>
<path d="M820.70,163.60 A8 8 0 0 0 834.30,163.60" class="k"/>
<path d="M841.45,163.60 A8 8 0 0 0 855.05,163.60" class="k"/>
<path d="M882.70,163.60 A8 8 0 0 0 896.30,163.60" class="k"/>
<path d="M923.70,163.60 A8 8 0 0 0 937.30,163.60" class="k"/>
<path d="M965.20,163.60 A8 8 0 0 0 978.80,163.60" class="k"/>
<path d="M786.25,167.2 V600" fill="none" stroke="#e8b078" stroke-width="3.5" stroke-linejoin="miter" opacity=".8"/>
<path d="M786.25,167.2 V600" fill="none" stroke="#a73317" stroke-width="2.4" stroke-linejoin="miter" transform="translate(-0.45 0)"/>
<path d="M827.5,167.2 V313" fill="none" stroke="#3c9b1e" stroke-width="2.8"/>
<path d="M848.25,167.2 V313" fill="none" stroke="#dd8d2e" stroke-width="2.8"/>
<path d="M889.5,167.2 V260" fill="none" stroke="#7d5c12" stroke-width="2.8"/>
<path d="M889.5,278.8 V363.8" fill="none" stroke="#7d5c12" stroke-width="2.8" stroke-dasharray="12.7 6.8"/>
<ellipse cx="928.4" cy="269.5" rx="22.9" ry="6.1" class="g" stroke-dasharray="6 4"/>
<ellipse cx="928.4" cy="312.5" rx="22.9" ry="6.2" class="g" stroke-dasharray="6 4"/>
<path d="M905.5,270 V312 M951.3,275 V312" class="g" stroke-dasharray="10 6"/>
<path d="M972,167.2 V435 H1178.25 V373.7" fill="none" stroke="#666" stroke-width="2.3" stroke-linejoin="miter"/>
<path d="M930.5,167.2 V455.5 H1261.25 V373.7" fill="none" stroke="#000" stroke-width="2.3" stroke-linejoin="miter"/>
<path d="M972,167.4 L951.25,186.5 V269.5" fill="none" stroke="#000" stroke-width="2.3" stroke-linejoin="miter"/>
<circle cx="951.25" cy="269.50" r="3.20" fill="#000"/>
<text transform="translate(778.75 180.00) rotate(-90)">1</text>
<text transform="translate(820.00 180.00) rotate(-90)">2</text>
<text transform="translate(840.75 180.00) rotate(-90)">3</text>
<text transform="translate(881.75 180.00) rotate(-90)">4</text>
<text transform="translate(923.00 180.00) rotate(-90)">1</text>
<text transform="translate(952.50 180.00) rotate(-90)">2</text>
<text transform="translate(903.00 173.75) rotate(-90)" text-anchor="end">T5AU</text>
<text transform="translate(985.50 173.75) rotate(-90)" text-anchor="end">T2KO</text>
<text transform="translate(779.25 215.00) rotate(-90)" text-anchor="end">RED/GRN</text>
<text transform="translate(820.00 215.00) rotate(-90)" text-anchor="end">GRN</text>
<text transform="translate(840.75 215.00) rotate(-90)" text-anchor="end">ORG/BRN</text>
<text transform="translate(882.00 215.00) rotate(-90)" text-anchor="end">BRN</text>
<text transform="translate(923.00 215.00) rotate(-90)" text-anchor="end">NCA</text>
<text transform="translate(943.75 215.00) rotate(-90)" text-anchor="end">NCA</text>
<text transform="translate(964.25 215.00) rotate(-90)" text-anchor="end">BLK</text>
<text transform="translate(882.00 290.50) rotate(-90)" text-anchor="end">BRN</text>
<circle cx="889.50" cy="269.50" r="4.20" fill="#000"/>
<circle cx="889.50" cy="372.60" r="4.10" fill="#000"/>
<path d="M881.30,377.00 H897.70 M885.10,380.50 H893.90 M887.70,383.80 H891.30" class="k"/>
<path d="M820.40,311.20 H834.60 L827.50,323.40 Z" fill="#000"/>
<path d="M841.15,311.20 H855.35 L848.25,323.40 Z" fill="#000"/>
<text x="836.00" y="337.50" text-anchor="middle">COMPUTER</text>
<text x="836.00" y="353.00" text-anchor="middle">DATA LINES</text>
<text x="836.00" y="368.50" text-anchor="middle">SYSTEM</text>
<text x="889.00" y="397.50" text-anchor="middle">G736</text>
<text x="889.00" y="413.10" text-anchor="middle">(RIGHT</text>
<text x="889.00" y="428.70" text-anchor="middle">REAR FOOTWELL)</text>
<text x="1115.50" y="97.00" text-anchor="middle">NEAR FIELD</text>
<text x="1115.50" y="112.50" text-anchor="middle">COMMUNICATION</text>
<text x="1115.50" y="128.00" text-anchor="middle">ANTENNA 2</text>
<rect x="1059.5" y="133.25" width="114.75" height="66.25" class="b"/>
<path d="M1100.10,154.25 H1128.70 L1114.40,178.25 Z M1114.40,154.25 V178.25" class="k" stroke-linejoin="miter"/>
<path d="M1068.20,204.30 A8 8 0 0 0 1081.80,204.30" class="k"/>
<path d="M1150.70,204.30 A8 8 0 0 0 1164.30,204.30" class="k"/>
<path d="M1075,208 V352" fill="none" stroke="#666" stroke-width="2.2"/>
<path d="M1157.5,208 V352" fill="none" stroke="#000" stroke-width="2.3"/>
<text transform="translate(1067.00 222.00) rotate(-90)">2</text>
<text transform="translate(1068.00 258.75) rotate(-90)">BLK</text>
<text transform="translate(1149.25 222.00) rotate(-90)">1</text>
<text transform="translate(1150.00 261.25) rotate(-90)">NCA</text>
<text x="1322.00" y="69.50" text-anchor="middle">MOBILE DEVICE</text>
<text x="1322.00" y="85.00" text-anchor="middle">CHARGER 1</text>
<path d="M1385.5,92 H1261 V199.5 H1385.5 Z" class="d" stroke-dasharray="12.7 6.8"/>
<text x="1322.20" y="113.75" text-anchor="middle">NEAR FIELD</text>
<text x="1322.20" y="129.25" text-anchor="middle">COMMUNICATION</text>
<text x="1322.20" y="144.75" text-anchor="middle">ANTENNA 2</text>
<path d="M1306.90,161.20 H1335.10 L1321.00,184.60 Z M1321.00,161.20 V184.60" class="k" stroke-linejoin="miter"/>
<path d="M1289,204.2 H1357.5" class="g" stroke-dasharray="12 7.5"/>
<path d="M1274.95,204.30 A8 8 0 0 0 1288.55,204.30" class="k"/>
<path d="M1358.20,204.30 A8 8 0 0 0 1371.80,204.30" class="k"/>
<path d="M1281.75,208 V352" fill="none" stroke="#666" stroke-width="2.2"/>
<path d="M1365,208 V352" fill="none" stroke="#000" stroke-width="2.3"/>
<text transform="translate(1274.25 222.00) rotate(-90)">2</text>
<text transform="translate(1274.50 258.75) rotate(-90)">BLK</text>
<text transform="translate(1356.75 222.00) rotate(-90)">1</text>
<text transform="translate(1357.00 261.25) rotate(-90)">NCA</text>
<text transform="translate(1377.50 246.25) rotate(-90)">T2KX</text>
<path d="M1065,362 L1070,366.75 H1214.8 L1219.5,372.2 L1224.3,366.75 H1370 L1374.4,362" class="k" stroke-width="1.2" stroke-linejoin="miter"/>
<text x="1107.40" y="389.25" text-anchor="middle">W/O TELEPHONE</text>
<text x="1107.40" y="404.85" text-anchor="middle">CHARGING</text>
<text x="1107.40" y="420.45" text-anchor="middle">STATION</text>
<text x="1334.50" y="389.25" text-anchor="middle">W/ TELEPHONE</text>
<text x="1334.50" y="404.75" text-anchor="middle">CHARGING</text>
<text x="1334.50" y="420.25" text-anchor="middle">STATION</text>
<text x="1199.60" y="515.00" text-anchor="end">COMPUTER</text>
<text x="1199.60" y="530.60" text-anchor="end">DATA LINES</text>
<text x="1199.60" y="546.20" text-anchor="end">SYSTEM</text>
<path d="M1219,517.2 H1323.2" fill="none" stroke="#dd8d2e" stroke-width="3.0"/>
<path d="M1219,538 H1323.2" fill="none" stroke="#dd8d2e" stroke-width="3.0"/>
<path d="M1207.60,517.20 L1219.60,510.50 V523.90 Z" fill="#000"/>
<path d="M1207.60,538.00 L1219.60,531.30 V544.70 Z" fill="#000"/>
<path d="M1326.30,510.50 A8 8 0 0 0 1326.30,523.90" class="k"/>
<path d="M1326.30,531.30 A8 8 0 0 0 1326.30,544.70" class="k"/>
<text x="1238.80" y="510.00">ORG/BRN</text>
<text x="1237.80" y="530.60">ORG/GRY</text>
<text x="1313.80" y="508.60">3</text>
<text x="1313.80" y="529.20">4</text>
<text x="1291.50" y="550.50">T32K</text>
<path d="M1470.75,497.8 H1331 V553.2 H1470.75 Z" class="d" stroke-dasharray="12.7 6.8"/>
<rect x="0" y="0" width="1500" height="2.4" fill="#000"/>
<rect x="0" y="0" width="2.7" height="560" fill="#000"/>
<rect x="0" y="0" width="1" height="560" fill="#444"/>
<rect x="1497" y="0" width="3" height="560" fill="#000"/>
</g>
</svg>
</body>
</html>
